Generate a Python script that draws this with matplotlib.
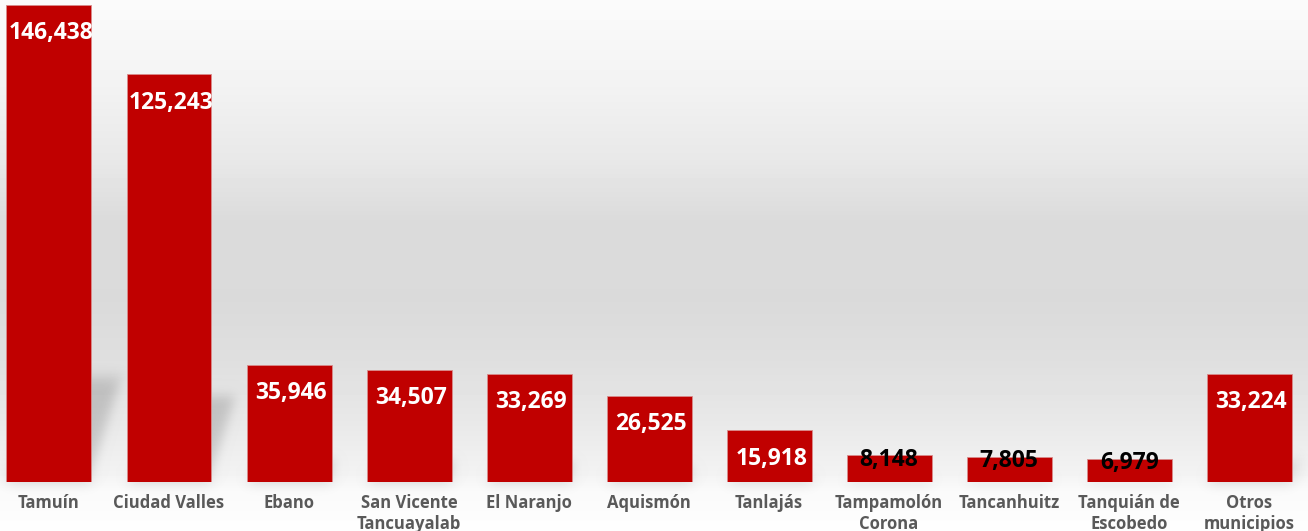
import numpy as np
import matplotlib
matplotlib.use("Agg")
import matplotlib.pyplot as plt
from matplotlib.patches import Polygon
from matplotlib.collections import PatchCollection

# data
municipios = ["Tamuín", "Ciudad Valles", "Ebano", "San Vicente\nTancuayalab", "El Naranjo",
              "Aquismón", "Tanlajás", "Tampamolón\nCorona", "Tancanhuitz",
              "Tanquián de\nEscobedo", "Otros\nmunicipios"]
valores = [146438, 125243, 35946, 34507, 33269, 26525, 15918, 8148, 7805, 6979, 33224]
etiquetas = ["146,438", "125,243", "35,946", "34,507", "33,269", "26,525",
             "15,918", "8,148", "7,805", "6,979", "33,224"]

BAR_RED = "#C00000"
LABEL_GRAY = "#595959"
FONT = ["Open Sans", "DejaVu Sans"]


# simple gaussian blur used as agg_filter for the soft bar shadows
def blur_filter(im, dpi, sigma=7.0):
    pad = int(3 * sigma) + 2
    padded = np.pad(im, [(pad, pad), (pad, pad), (0, 0)], "constant")
    r = np.arange(-pad, pad + 1)
    k = np.exp(-0.5 * (r / sigma) ** 2)
    k = k / k.sum()
    out = np.apply_along_axis(lambda m: np.convolve(m, k, mode="same"), 0, padded)
    out = np.apply_along_axis(lambda m: np.convolve(m, k, mode="same"), 1, out)
    return out, -pad, -pad


fig = plt.figure(figsize=(13.08, 5.31), dpi=100)

# background gradient (light top, grey middle, light near the base)
bg = fig.add_axes([0, 0, 1, 1], zorder=0)
ypix = np.arange(531)
stops_y = [0, 80, 160, 220, 300, 360, 420, 470, 490, 531]
stops_g = [251, 243, 232, 219, 218, 223, 232, 242, 250, 254]
gray = np.interp(ypix, stops_y, stops_g) / 255.0
grad = np.repeat(gray[:, None], 2, axis=1)
bg.imshow(grad, cmap="gray", vmin=0, vmax=1, aspect="auto", extent=[0, 1, 0, 1])
bg.set_axis_off()

ax = fig.add_axes([0, 49 / 531, 1, 482 / 531], zorder=1)
ax.patch.set_alpha(0)

x = np.arange(len(municipios))
width = 0.708
vmax = max(valores)

# shadows: bar shape squeezed and skewed up-right, then blurred
shadows = []
for xi, v in zip(x, valores):
    shift = 0.28 * v / vmax
    h = 0.22 * v
    shadows.append(Polygon([(xi - width / 2, 0), (xi + width / 2, 0),
                            (xi + width / 2 + shift, h), (xi - width / 2 + shift, h)]))
pc = PatchCollection(shadows, facecolor="black", edgecolor="none", alpha=0.16, zorder=1)
pc.set_agg_filter(blur_filter)
pc.set_rasterized(True)
ax.add_collection(pc)

bars = ax.bar(x, valores, width=width, color=BAR_RED, edgecolor="#d98c8c",
              linewidth=0.6, zorder=2)

for xi, v, lab in zip(x, valores, etiquetas):
    if v > 12000:
        ax.annotate(lab, (xi, v), xytext=(1.5, -20.5), textcoords="offset points",
                    ha="center", va="center", color="white", fontsize=16.5,
                    fontweight="bold", family=FONT, zorder=3)
    else:
        ax.annotate(lab, (xi, v), xytext=(0, -3), textcoords="offset points",
                    ha="center", va="center", color="black", fontsize=16.5,
                    fontweight="bold", family=FONT, zorder=3)

ax.set_xlim(-0.408, 10.49)
ax.set_ylim(0, vmax * 482 / 477)
ax.set_xticks(x)
ax.set_xticklabels(municipios, color=LABEL_GRAY, fontsize=12, fontweight="bold",
                   family=FONT, linespacing=1.2)
ax.tick_params(axis="x", length=0, pad=9)
ax.set_yticks([])
for s in ax.spines.values():
    s.set_visible(False)

plt.savefig("out.png", dpi=100)
